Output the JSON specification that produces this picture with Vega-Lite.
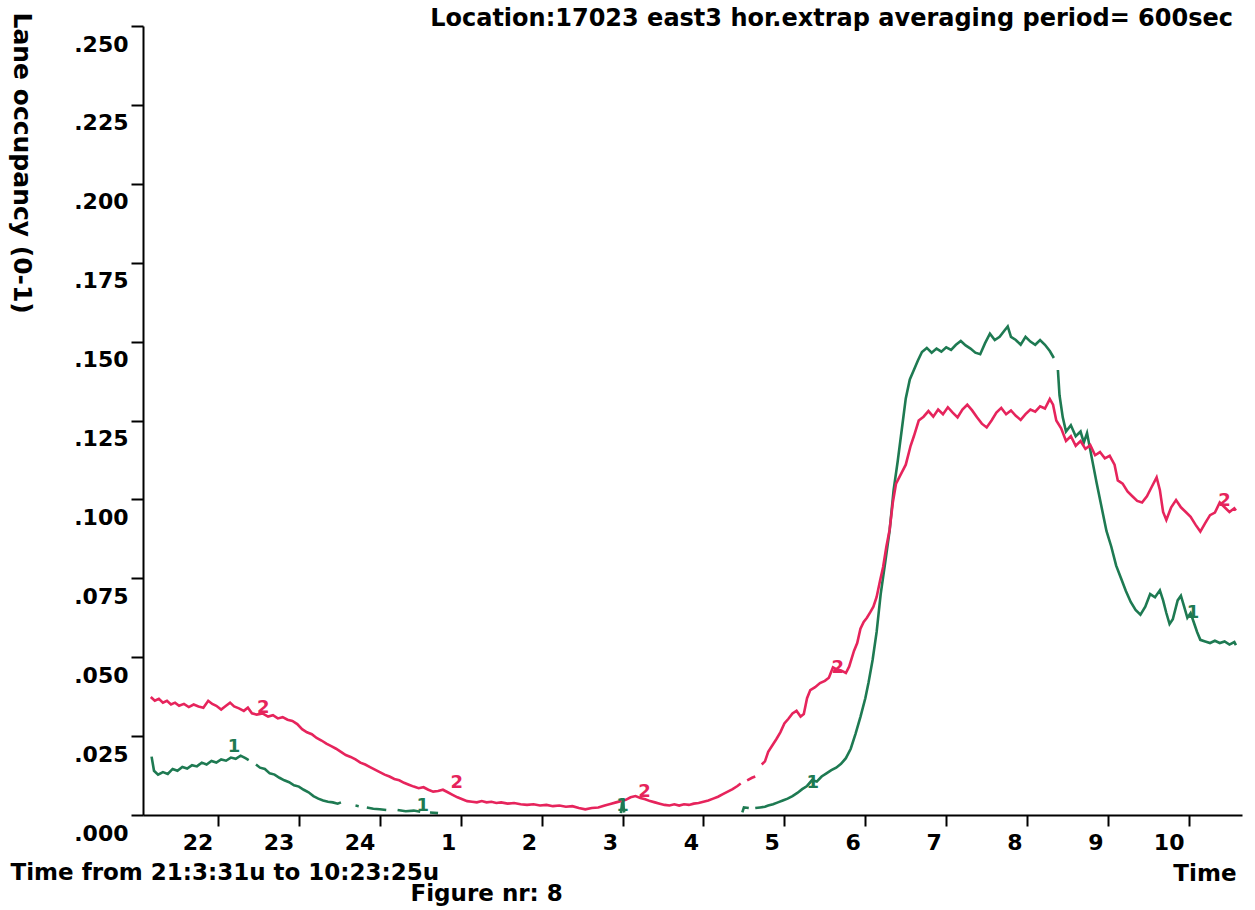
{
"$schema": "https://vega.github.io/schema/vega-lite/v6.json",
"width": 1099,
"height": 789,
"autosize": {"type": "none"},
"padding": {"left": 143, "top": 26, "right": 13, "bottom": 95},
"background": "white",
"config": {"view": {"stroke": null}, "font": "DejaVu Sans"},
"title": {"text": "Location:17023 east3 hor.extrap averaging period= 600sec", "anchor": "end", "frame": "group", "font": "DejaVu Sans", "fontSize": 24, "fontWeight": "bold", "color": "black", "offset": 0, "dx": -9, "dy": 43, "baseline": "bottom"},
"datasets": {
"lanes": [
{"hour":21.18,"lane":"1","occ":0.0185},{"hour":21.21,"lane":"1","occ":0.0140},{"hour":21.26,"lane":"1","occ":0.0128},{"hour":21.32,"lane":"1","occ":0.0136},{"hour":21.38,"lane":"1","occ":0.0130},{"hour":21.44,"lane":"1","occ":0.0146},{"hour":21.50,"lane":"1","occ":0.0140},{"hour":21.56,"lane":"1","occ":0.0152},{"hour":21.62,"lane":"1","occ":0.0147},{"hour":21.68,"lane":"1","occ":0.0158},{"hour":21.74,"lane":"1","occ":0.0154},{"hour":21.80,"lane":"1","occ":0.0166},{"hour":21.86,"lane":"1","occ":0.0160},{"hour":21.92,"lane":"1","occ":0.0171},{"hour":21.98,"lane":"1","occ":0.0166},{"hour":22.04,"lane":"1","occ":0.0176},{"hour":22.10,"lane":"1","occ":0.0172},{"hour":22.16,"lane":"1","occ":0.0182},{"hour":22.22,"lane":"1","occ":0.0178},{"hour":22.28,"lane":"1","occ":0.0188},{"hour":22.34,"lane":"1","occ":0.0180},{"hour":22.38,"lane":"1","occ":0.0174},{"hour":22.42,"lane":"1","occ":null},{"hour":22.47,"lane":"1","occ":0.0160},{"hour":22.52,"lane":"1","occ":0.0150},{"hour":22.58,"lane":"1","occ":0.0146},{"hour":22.64,"lane":"1","occ":0.0132},{"hour":22.70,"lane":"1","occ":0.0128},{"hour":22.76,"lane":"1","occ":0.0118},{"hour":22.82,"lane":"1","occ":0.0110},{"hour":22.88,"lane":"1","occ":0.0104},{"hour":22.94,"lane":"1","occ":0.0094},{"hour":23.00,"lane":"1","occ":0.0090},{"hour":23.06,"lane":"1","occ":0.0080},{"hour":23.12,"lane":"1","occ":0.0072},{"hour":23.18,"lane":"1","occ":0.0060},{"hour":23.24,"lane":"1","occ":0.0052},{"hour":23.30,"lane":"1","occ":0.0046},{"hour":23.36,"lane":"1","occ":0.0042},{"hour":23.42,"lane":"1","occ":0.0040},{"hour":23.48,"lane":"1","occ":0.0036},{"hour":23.52,"lane":"1","occ":0.0040},{"hour":23.56,"lane":"1","occ":null},{"hour":23.70,"lane":"1","occ":0.0030},{"hour":23.74,"lane":"1","occ":0.0028},{"hour":23.78,"lane":"1","occ":null},{"hour":23.84,"lane":"1","occ":0.0024},{"hour":23.92,"lane":"1","occ":0.0020},{"hour":24.00,"lane":"1","occ":0.0018},{"hour":24.08,"lane":"1","occ":0.0016},{"hour":24.16,"lane":"1","occ":null},{"hour":24.22,"lane":"1","occ":0.0016},{"hour":24.32,"lane":"1","occ":0.0012},{"hour":24.42,"lane":"1","occ":0.0014},{"hour":24.50,"lane":"1","occ":0.0010},{"hour":24.56,"lane":"1","occ":null},{"hour":24.62,"lane":"1","occ":0.0008},{"hour":24.72,"lane":"1","occ":0.0006},{"hour":24.80,"lane":"1","occ":null},{"hour":26.98,"lane":"1","occ":0.0006},{"hour":27.00,"lane":"1","occ":0.0050},{"hour":27.02,"lane":"1","occ":0.0008},{"hour":27.04,"lane":"1","occ":null},{"hour":28.48,"lane":"1","occ":0.0008},{"hour":28.50,"lane":"1","occ":0.0024},{"hour":28.56,"lane":"1","occ":0.0022},{"hour":28.60,"lane":"1","occ":null},{"hour":28.64,"lane":"1","occ":0.0022},{"hour":28.70,"lane":"1","occ":0.0024},{"hour":28.76,"lane":"1","occ":0.0026},{"hour":28.80,"lane":"1","occ":0.0030},{"hour":28.86,"lane":"1","occ":0.0034},{"hour":28.92,"lane":"1","occ":0.0040},{"hour":28.98,"lane":"1","occ":0.0046},{"hour":29.04,"lane":"1","occ":0.0052},{"hour":29.10,"lane":"1","occ":0.0060},{"hour":29.16,"lane":"1","occ":0.0070},{"hour":29.22,"lane":"1","occ":0.0082},{"hour":29.28,"lane":"1","occ":0.0092},{"hour":29.34,"lane":"1","occ":0.0110},{"hour":29.40,"lane":"1","occ":0.0106},{"hour":29.46,"lane":"1","occ":0.0122},{"hour":29.52,"lane":"1","occ":0.0132},{"hour":29.58,"lane":"1","occ":0.0142},{"hour":29.64,"lane":"1","occ":0.0150},{"hour":29.70,"lane":"1","occ":0.0162},{"hour":29.76,"lane":"1","occ":0.0180},{"hour":29.82,"lane":"1","occ":0.0210},{"hour":29.88,"lane":"1","occ":0.0258},{"hour":29.94,"lane":"1","occ":0.0311},{"hour":30.00,"lane":"1","occ":0.0370},{"hour":30.04,"lane":"1","occ":0.0420},{"hour":30.09,"lane":"1","occ":0.0491},{"hour":30.14,"lane":"1","occ":0.0580},{"hour":30.19,"lane":"1","occ":0.0700},{"hour":30.25,"lane":"1","occ":0.0808},{"hour":30.30,"lane":"1","occ":0.0900},{"hour":30.35,"lane":"1","occ":0.1030},{"hour":30.40,"lane":"1","occ":0.1120},{"hour":30.45,"lane":"1","occ":0.1220},{"hour":30.50,"lane":"1","occ":0.1320},{"hour":30.55,"lane":"1","occ":0.1380},{"hour":30.60,"lane":"1","occ":0.1410},{"hour":30.65,"lane":"1","occ":0.1440},{"hour":30.70,"lane":"1","occ":0.1467},{"hour":30.76,"lane":"1","occ":0.1480},{"hour":30.82,"lane":"1","occ":0.1465},{"hour":30.88,"lane":"1","occ":0.1478},{"hour":30.94,"lane":"1","occ":0.1468},{"hour":31.00,"lane":"1","occ":0.1482},{"hour":31.06,"lane":"1","occ":0.1474},{"hour":31.12,"lane":"1","occ":0.1490},{"hour":31.18,"lane":"1","occ":0.1502},{"hour":31.24,"lane":"1","occ":0.1488},{"hour":31.30,"lane":"1","occ":0.1478},{"hour":31.36,"lane":"1","occ":0.1465},{"hour":31.42,"lane":"1","occ":0.1460},{"hour":31.48,"lane":"1","occ":0.1495},{"hour":31.54,"lane":"1","occ":0.1525},{"hour":31.60,"lane":"1","occ":0.1505},{"hour":31.66,"lane":"1","occ":0.1515},{"hour":31.72,"lane":"1","occ":0.1535},{"hour":31.76,"lane":"1","occ":0.1548},{"hour":31.80,"lane":"1","occ":0.1515},{"hour":31.86,"lane":"1","occ":0.1505},{"hour":31.92,"lane":"1","occ":0.1490},{"hour":31.98,"lane":"1","occ":0.1515},{"hour":32.04,"lane":"1","occ":0.1500},{"hour":32.10,"lane":"1","occ":0.1490},{"hour":32.16,"lane":"1","occ":0.1505},{"hour":32.22,"lane":"1","occ":0.1490},{"hour":32.28,"lane":"1","occ":0.1470},{"hour":32.33,"lane":"1","occ":0.1448},{"hour":32.36,"lane":"1","occ":null},{"hour":32.38,"lane":"1","occ":0.1410},{"hour":32.40,"lane":"1","occ":0.1330},{"hour":32.44,"lane":"1","occ":0.1260},{"hour":32.48,"lane":"1","occ":0.1215},{"hour":32.54,"lane":"1","occ":0.1235},{"hour":32.60,"lane":"1","occ":0.1200},{"hour":32.66,"lane":"1","occ":0.1215},{"hour":32.70,"lane":"1","occ":0.1180},{"hour":32.74,"lane":"1","occ":0.1210},{"hour":32.80,"lane":"1","occ":0.1130},{"hour":32.86,"lane":"1","occ":0.1050},{"hour":32.92,"lane":"1","occ":0.0975},{"hour":32.98,"lane":"1","occ":0.0900},{"hour":33.04,"lane":"1","occ":0.0850},{"hour":33.10,"lane":"1","occ":0.0790},{"hour":33.16,"lane":"1","occ":0.0750},{"hour":33.22,"lane":"1","occ":0.0710},{"hour":33.28,"lane":"1","occ":0.0675},{"hour":33.34,"lane":"1","occ":0.0650},{"hour":33.40,"lane":"1","occ":0.0635},{"hour":33.46,"lane":"1","occ":0.0660},{"hour":33.52,"lane":"1","occ":0.0700},{"hour":33.58,"lane":"1","occ":0.0690},{"hour":33.64,"lane":"1","occ":0.0712},{"hour":33.68,"lane":"1","occ":0.0680},{"hour":33.72,"lane":"1","occ":0.0640},{"hour":33.76,"lane":"1","occ":0.0605},{"hour":33.80,"lane":"1","occ":0.0620},{"hour":33.86,"lane":"1","occ":0.0680},{"hour":33.90,"lane":"1","occ":0.0695},{"hour":33.94,"lane":"1","occ":0.0660},{"hour":33.98,"lane":"1","occ":0.0625},{"hour":34.02,"lane":"1","occ":0.0640},{"hour":34.06,"lane":"1","occ":0.0610},{"hour":34.10,"lane":"1","occ":0.0580},{"hour":34.14,"lane":"1","occ":0.0555},{"hour":34.20,"lane":"1","occ":0.0550},{"hour":34.26,"lane":"1","occ":0.0545},{"hour":34.32,"lane":"1","occ":0.0552},{"hour":34.38,"lane":"1","occ":0.0545},{"hour":34.44,"lane":"1","occ":0.0550},{"hour":34.50,"lane":"1","occ":0.0540},{"hour":34.56,"lane":"1","occ":0.0548},{"hour":34.58,"lane":"1","occ":0.0538},
{"hour":21.17,"lane":"2","occ":0.0374},{"hour":21.22,"lane":"2","occ":0.0362},{"hour":21.27,"lane":"2","occ":0.0368},{"hour":21.32,"lane":"2","occ":0.0356},{"hour":21.37,"lane":"2","occ":0.0362},{"hour":21.42,"lane":"2","occ":0.0350},{"hour":21.47,"lane":"2","occ":0.0356},{"hour":21.52,"lane":"2","occ":0.0346},{"hour":21.58,"lane":"2","occ":0.0352},{"hour":21.64,"lane":"2","occ":0.0342},{"hour":21.70,"lane":"2","occ":0.0350},{"hour":21.76,"lane":"2","occ":0.0344},{"hour":21.82,"lane":"2","occ":0.0340},{"hour":21.88,"lane":"2","occ":0.0362},{"hour":21.93,"lane":"2","occ":0.0352},{"hour":21.98,"lane":"2","occ":0.0346},{"hour":22.04,"lane":"2","occ":0.0334},{"hour":22.10,"lane":"2","occ":0.0346},{"hour":22.15,"lane":"2","occ":0.0356},{"hour":22.20,"lane":"2","occ":0.0344},{"hour":22.26,"lane":"2","occ":0.0338},{"hour":22.32,"lane":"2","occ":0.0330},{"hour":22.37,"lane":"2","occ":0.0340},{"hour":22.42,"lane":"2","occ":0.0322},{"hour":22.48,"lane":"2","occ":0.0318},{"hour":22.55,"lane":"2","occ":0.0322},{"hour":22.62,"lane":"2","occ":0.0312},{"hour":22.68,"lane":"2","occ":0.0316},{"hour":22.74,"lane":"2","occ":0.0306},{"hour":22.80,"lane":"2","occ":0.0310},{"hour":22.86,"lane":"2","occ":0.0302},{"hour":22.92,"lane":"2","occ":0.0298},{"hour":22.98,"lane":"2","occ":0.0288},{"hour":23.04,"lane":"2","occ":0.0272},{"hour":23.10,"lane":"2","occ":0.0262},{"hour":23.16,"lane":"2","occ":0.0256},{"hour":23.22,"lane":"2","occ":0.0244},{"hour":23.28,"lane":"2","occ":0.0236},{"hour":23.34,"lane":"2","occ":0.0226},{"hour":23.40,"lane":"2","occ":0.0218},{"hour":23.46,"lane":"2","occ":0.0210},{"hour":23.52,"lane":"2","occ":0.0200},{"hour":23.58,"lane":"2","occ":0.0190},{"hour":23.64,"lane":"2","occ":0.0184},{"hour":23.70,"lane":"2","occ":0.0176},{"hour":23.76,"lane":"2","occ":0.0166},{"hour":23.82,"lane":"2","occ":0.0160},{"hour":23.88,"lane":"2","occ":0.0152},{"hour":23.94,"lane":"2","occ":0.0144},{"hour":24.00,"lane":"2","occ":0.0136},{"hour":24.06,"lane":"2","occ":0.0128},{"hour":24.12,"lane":"2","occ":0.0122},{"hour":24.18,"lane":"2","occ":0.0114},{"hour":24.24,"lane":"2","occ":0.0110},{"hour":24.30,"lane":"2","occ":0.0102},{"hour":24.36,"lane":"2","occ":0.0096},{"hour":24.42,"lane":"2","occ":0.0090},{"hour":24.48,"lane":"2","occ":0.0085},{"hour":24.54,"lane":"2","occ":0.0088},{"hour":24.60,"lane":"2","occ":0.0080},{"hour":24.66,"lane":"2","occ":0.0074},{"hour":24.72,"lane":"2","occ":0.0076},{"hour":24.78,"lane":"2","occ":0.0080},{"hour":24.84,"lane":"2","occ":0.0072},{"hour":24.90,"lane":"2","occ":0.0064},{"hour":24.96,"lane":"2","occ":0.0056},{"hour":25.02,"lane":"2","occ":0.0050},{"hour":25.08,"lane":"2","occ":0.0044},{"hour":25.14,"lane":"2","occ":0.0042},{"hour":25.20,"lane":"2","occ":0.0040},{"hour":25.26,"lane":"2","occ":0.0044},{"hour":25.32,"lane":"2","occ":0.0040},{"hour":25.38,"lane":"2","occ":0.0042},{"hour":25.44,"lane":"2","occ":0.0038},{"hour":25.50,"lane":"2","occ":0.0040},{"hour":25.58,"lane":"2","occ":0.0036},{"hour":25.66,"lane":"2","occ":0.0038},{"hour":25.74,"lane":"2","occ":0.0034},{"hour":25.82,"lane":"2","occ":0.0032},{"hour":25.90,"lane":"2","occ":0.0034},{"hour":25.98,"lane":"2","occ":0.0030},{"hour":26.06,"lane":"2","occ":0.0032},{"hour":26.14,"lane":"2","occ":0.0028},{"hour":26.22,"lane":"2","occ":0.0030},{"hour":26.30,"lane":"2","occ":0.0026},{"hour":26.38,"lane":"2","occ":0.0028},{"hour":26.46,"lane":"2","occ":0.0022},{"hour":26.54,"lane":"2","occ":0.0018},{"hour":26.62,"lane":"2","occ":0.0022},{"hour":26.70,"lane":"2","occ":0.0024},{"hour":26.78,"lane":"2","occ":0.0030},{"hour":26.86,"lane":"2","occ":0.0036},{"hour":26.92,"lane":"2","occ":0.0040},{"hour":27.04,"lane":"2","occ":0.0048},{"hour":27.10,"lane":"2","occ":0.0056},{"hour":27.16,"lane":"2","occ":0.0060},{"hour":27.22,"lane":"2","occ":0.0054},{"hour":27.28,"lane":"2","occ":0.0050},{"hour":27.34,"lane":"2","occ":0.0044},{"hour":27.40,"lane":"2","occ":0.0040},{"hour":27.46,"lane":"2","occ":0.0036},{"hour":27.52,"lane":"2","occ":0.0032},{"hour":27.58,"lane":"2","occ":0.0030},{"hour":27.64,"lane":"2","occ":0.0034},{"hour":27.70,"lane":"2","occ":0.0030},{"hour":27.76,"lane":"2","occ":0.0034},{"hour":27.82,"lane":"2","occ":0.0032},{"hour":27.88,"lane":"2","occ":0.0036},{"hour":27.94,"lane":"2","occ":0.0038},{"hour":28.00,"lane":"2","occ":0.0042},{"hour":28.06,"lane":"2","occ":0.0046},{"hour":28.12,"lane":"2","occ":0.0052},{"hour":28.18,"lane":"2","occ":0.0058},{"hour":28.24,"lane":"2","occ":0.0066},{"hour":28.30,"lane":"2","occ":0.0074},{"hour":28.36,"lane":"2","occ":0.0082},{"hour":28.42,"lane":"2","occ":0.0092},{"hour":28.46,"lane":"2","occ":0.0100},{"hour":28.50,"lane":"2","occ":null},{"hour":28.54,"lane":"2","occ":0.0110},{"hour":28.60,"lane":"2","occ":0.0118},{"hour":28.64,"lane":"2","occ":0.0122},{"hour":28.68,"lane":"2","occ":null},{"hour":28.72,"lane":"2","occ":0.0160},{"hour":28.76,"lane":"2","occ":0.0170},{"hour":28.80,"lane":"2","occ":0.0200},{"hour":28.85,"lane":"2","occ":0.0220},{"hour":28.90,"lane":"2","occ":0.0240},{"hour":28.95,"lane":"2","occ":0.0262},{"hour":29.00,"lane":"2","occ":0.0290},{"hour":29.05,"lane":"2","occ":0.0305},{"hour":29.10,"lane":"2","occ":0.0322},{"hour":29.15,"lane":"2","occ":0.0330},{"hour":29.20,"lane":"2","occ":0.0312},{"hour":29.24,"lane":"2","occ":0.0320},{"hour":29.28,"lane":"2","occ":0.0370},{"hour":29.32,"lane":"2","occ":0.0396},{"hour":29.38,"lane":"2","occ":0.0405},{"hour":29.44,"lane":"2","occ":0.0418},{"hour":29.50,"lane":"2","occ":0.0425},{"hour":29.55,"lane":"2","occ":0.0435},{"hour":29.60,"lane":"2","occ":0.0468},{"hour":29.64,"lane":"2","occ":0.0462},{"hour":29.70,"lane":"2","occ":0.0458},{"hour":29.76,"lane":"2","occ":0.0450},{"hour":29.80,"lane":"2","occ":0.0470},{"hour":29.86,"lane":"2","occ":0.0520},{"hour":29.90,"lane":"2","occ":0.0545},{"hour":29.94,"lane":"2","occ":0.0590},{"hour":29.98,"lane":"2","occ":0.0612},{"hour":30.02,"lane":"2","occ":0.0625},{"hour":30.06,"lane":"2","occ":0.0642},{"hour":30.10,"lane":"2","occ":0.0660},{"hour":30.14,"lane":"2","occ":0.0691},{"hour":30.18,"lane":"2","occ":0.0740},{"hour":30.22,"lane":"2","occ":0.0786},{"hour":30.26,"lane":"2","occ":0.0850},{"hour":30.30,"lane":"2","occ":0.0903},{"hour":30.34,"lane":"2","occ":0.0990},{"hour":30.38,"lane":"2","occ":0.1050},{"hour":30.44,"lane":"2","occ":0.1080},{"hour":30.50,"lane":"2","occ":0.1110},{"hour":30.56,"lane":"2","occ":0.1170},{"hour":30.60,"lane":"2","occ":0.1200},{"hour":30.66,"lane":"2","occ":0.1250},{"hour":30.72,"lane":"2","occ":0.1262},{"hour":30.78,"lane":"2","occ":0.1280},{"hour":30.84,"lane":"2","occ":0.1262},{"hour":30.90,"lane":"2","occ":0.1285},{"hour":30.96,"lane":"2","occ":0.1270},{"hour":31.02,"lane":"2","occ":0.1292},{"hour":31.08,"lane":"2","occ":0.1275},{"hour":31.14,"lane":"2","occ":0.1260},{"hour":31.20,"lane":"2","occ":0.1285},{"hour":31.26,"lane":"2","occ":0.1300},{"hour":31.32,"lane":"2","occ":0.1282},{"hour":31.38,"lane":"2","occ":0.1260},{"hour":31.44,"lane":"2","occ":0.1240},{"hour":31.50,"lane":"2","occ":0.1228},{"hour":31.56,"lane":"2","occ":0.1250},{"hour":31.62,"lane":"2","occ":0.1275},{"hour":31.68,"lane":"2","occ":0.1290},{"hour":31.74,"lane":"2","occ":0.1270},{"hour":31.80,"lane":"2","occ":0.1282},{"hour":31.86,"lane":"2","occ":0.1265},{"hour":31.92,"lane":"2","occ":0.1252},{"hour":31.98,"lane":"2","occ":0.1270},{"hour":32.04,"lane":"2","occ":0.1285},{"hour":32.10,"lane":"2","occ":0.1278},{"hour":32.16,"lane":"2","occ":0.1295},{"hour":32.22,"lane":"2","occ":0.1288},{"hour":32.28,"lane":"2","occ":0.1318},{"hour":32.32,"lane":"2","occ":0.1300},{"hour":32.36,"lane":"2","occ":0.1250},{"hour":32.42,"lane":"2","occ":0.1225},{"hour":32.48,"lane":"2","occ":0.1185},{"hour":32.54,"lane":"2","occ":0.1200},{"hour":32.60,"lane":"2","occ":0.1170},{"hour":32.66,"lane":"2","occ":0.1185},{"hour":32.72,"lane":"2","occ":0.1160},{"hour":32.78,"lane":"2","occ":0.1172},{"hour":32.84,"lane":"2","occ":0.1140},{"hour":32.90,"lane":"2","occ":0.1150},{"hour":32.96,"lane":"2","occ":0.1130},{"hour":33.02,"lane":"2","occ":0.1138},{"hour":33.08,"lane":"2","occ":0.1110},{"hour":33.12,"lane":"2","occ":0.1060},{"hour":33.18,"lane":"2","occ":0.1050},{"hour":33.24,"lane":"2","occ":0.1025},{"hour":33.30,"lane":"2","occ":0.1010},{"hour":33.36,"lane":"2","occ":0.0995},{"hour":33.42,"lane":"2","occ":0.0990},{"hour":33.48,"lane":"2","occ":0.1010},{"hour":33.54,"lane":"2","occ":0.1040},{"hour":33.60,"lane":"2","occ":0.1070},{"hour":33.64,"lane":"2","occ":0.1030},{"hour":33.68,"lane":"2","occ":0.0960},{"hour":33.72,"lane":"2","occ":0.0935},{"hour":33.78,"lane":"2","occ":0.0975},{"hour":33.84,"lane":"2","occ":0.0998},{"hour":33.90,"lane":"2","occ":0.0975},{"hour":33.96,"lane":"2","occ":0.0960},{"hour":34.02,"lane":"2","occ":0.0945},{"hour":34.08,"lane":"2","occ":0.0920},{"hour":34.14,"lane":"2","occ":0.0898},{"hour":34.20,"lane":"2","occ":0.0925},{"hour":34.26,"lane":"2","occ":0.0950},{"hour":34.32,"lane":"2","occ":0.0958},{"hour":34.38,"lane":"2","occ":0.0990},{"hour":34.44,"lane":"2","occ":0.0975},{"hour":34.50,"lane":"2","occ":0.0960},{"hour":34.56,"lane":"2","occ":0.0972},{"hour":34.58,"lane":"2","occ":0.0965}
],
"tags": [
{"hour":22.2,"lane":"1","occ":0.0215},{"hour":22.56,"lane":"2","occ":0.0340},{"hour":24.53,"lane":"1","occ":0.0030},{"hour":24.95,"lane":"2","occ":0.0102},{"hour":27.0,"lane":"1","occ":0.0030},{"hour":27.27,"lane":"2","occ":0.0072},{"hour":29.35,"lane":"1","occ":0.0102},{"hour":29.66,"lane":"2","occ":0.0465},{"hour":34.05,"lane":"1","occ":0.0640},{"hour":34.44,"lane":"2","occ":0.0995}
]
},
"layer": [
{
"data": {"name": "lanes"},
"mark": {"type": "line", "strokeWidth": 2.6, "invalid": "break-paths-show-domains"},
"encoding": {
"x": {"field": "hour", "type": "quantitative", "scale": {"domain": [21.074, 34.655], "nice": false, "zero": false},
"axis": {"orient": "bottom", "values": [22,23,24,25,26,27,28,29,30,31,32,33,34], "labelExpr": "datum.value > 24 ? '' + (datum.value - 24) : '' + datum.value", "labelAlign": "right", "labelOffset": -5, "labelBaseline": "top", "labelPadding": 6, "labelFlush": false, "labelOverlap": false, "tickSize": 11, "tickWidth": 2, "tickColor": "black", "domainColor": "black", "domainWidth": 2, "grid": false, "labelFont": "DejaVu Sans", "labelFontSize": 22, "labelFontWeight": "bold", "labelColor": "black", "title": "Time", "titleX": 1093, "titleY": 58, "titleAlign": "right", "titleBaseline": "middle", "titleAngle": 0, "titleFont": "DejaVu Sans", "titleFontSize": 23, "titleFontWeight": "bold", "titleColor": "black", "zindex": 1}},
"y": {"field": "occ", "type": "quantitative", "scale": {"domain": [0, 0.25], "nice": false, "zero": true},
"axis": {"orient": "left", "values": [0,0.025,0.05,0.075,0.1,0.125,0.15,0.175,0.2,0.225,0.25], "labelExpr": "replace(format(datum.value, '.3f'), '0.', '.')", "labelAlign": "right", "labelBaseline": "middle", "labelOffset": 18, "labelPadding": 3, "labelFlush": false, "labelOverlap": false, "tickSize": 12, "tickWidth": 2, "tickColor": "black", "domainColor": "black", "domainWidth": 2, "grid": false, "labelFont": "DejaVu Sans", "labelFontSize": 22, "labelFontWeight": "bold", "labelColor": "black", "title": "Lane occupancy (0-1)", "titleAngle": 90, "titleX": -122, "titleY": -14, "titleAlign": "left", "titleBaseline": "middle", "titleFont": "DejaVu Sans", "titleFontSize": 25, "titleFontWeight": "bold", "titleColor": "black", "zindex": 1}},
"color": {"field": "lane", "type": "nominal", "scale": {"domain": ["1", "2"], "range": ["#1e7a52", "#e6245c"]}, "legend": null}
}
},
{
"data": {"name": "tags"},
"mark": {"type": "text", "fontSize": 18, "fontWeight": "bold", "font": "DejaVu Sans", "align": "center", "baseline": "middle"},
"encoding": {
"x": {"field": "hour", "type": "quantitative", "axis": {"orient": "top", "labels": false, "ticks": false, "domain": false, "grid": false, "title": "Time from 21:3:31u to 10:23:25u", "titleX": -133, "titleY": 846, "titleAlign": "left", "titleBaseline": "middle", "titleAngle": 0, "titleFont": "DejaVu Sans", "titleFontSize": 23, "titleFontWeight": "bold", "titleColor": "black"}},
"y": {"field": "occ", "type": "quantitative", "axis": {"orient": "right", "labels": false, "ticks": false, "domain": false, "grid": false, "title": "Figure nr: 8", "titleX": -832, "titleY": 867, "titleAlign": "left", "titleBaseline": "middle", "titleAngle": 0, "titleFont": "DejaVu Sans", "titleFontSize": 23, "titleFontWeight": "bold", "titleColor": "black"}},
"text": {"field": "lane"},
"color": {"field": "lane", "type": "nominal", "legend": null}
}
}
],
"resolve": {"axis": {"x": "independent", "y": "independent"}}
}
